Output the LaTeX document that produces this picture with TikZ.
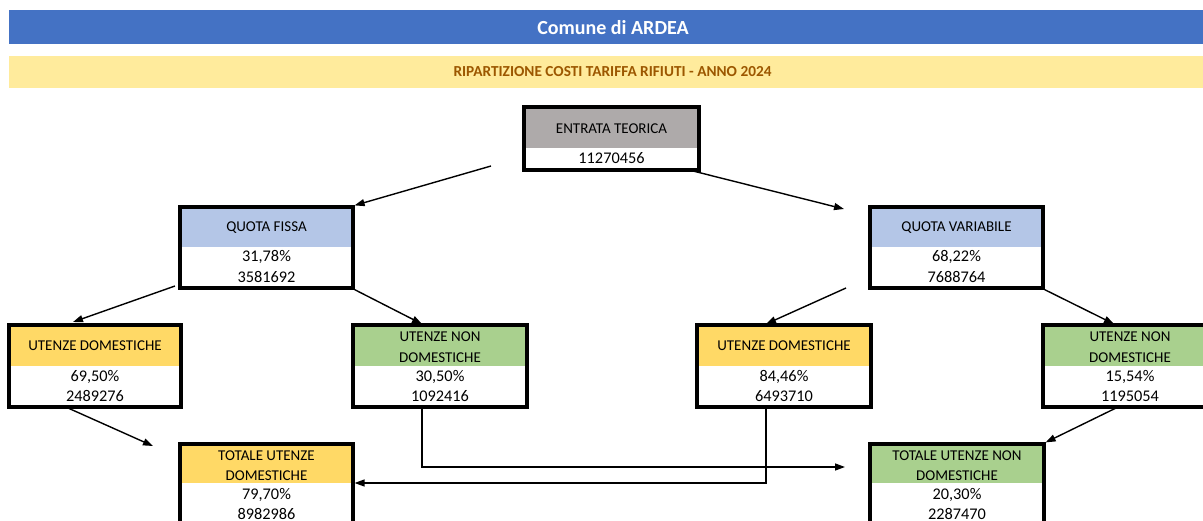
\documentclass[tikz,border=0pt]{standalone}
\usepackage{fontspec}
\setmainfont{Carlito}
\usetikzlibrary{arrows.meta,fit}
\definecolor{barblue}{HTML}{4472C4}
\definecolor{baryel}{HTML}{FFEB9C}
\definecolor{bartxt}{HTML}{9C5700}
\definecolor{hdgray}{HTML}{AEAAAA}
\definecolor{hdblue}{HTML}{B4C6E7}
\definecolor{hdyel}{HTML}{FFD966}
\definecolor{hdgreen}{HTML}{A9D08E}
\tikzset{
  boxframe/.style={draw=black, line width=3.2pt, inner sep=0pt},
  lbl/.style={font=\fontsize{15}{18}\selectfont, inner sep=0pt, text=black},
  val/.style={font=\fontsize{16.3}{19}\selectfont, inner sep=0pt, text=black},
  conn/.style={draw=black, line width=1.4pt, -{Triangle[length=10pt,width=7pt]}},
}
\newcommand\mkbox[7]{%
  \fill[#7] (#2,#3) rectangle (#4,#6);
  \node[boxframe, fit={(#2,#3) (#4,#5)}] (#1) {};
}
\begin{document}
\begin{tikzpicture}[x=1pt,y=-1pt]
\clip (0,0) rectangle (1203,520);
\fill[white] (0,0) rectangle (1203,520);
% title bars
\fill[barblue] (9,10) rectangle (1210,44);
\node[font=\fontsize{20}{24}\selectfont\bfseries, text=white] (title) at (613,27.5) {Comune di ARDEA};
\fill[baryel] (9,56) rectangle (1210,88);
\node[font=\fontsize{15.3}{18}\selectfont\bfseries, text=bartxt] (subtitle) at (612.5,72) {RIPARTIZIONE COSTI TARIFFA RIFIUTI - ANNO 2024};
% boxes
\mkbox{et}{524}{107}{699}{170}{148}{hdgray}
\node[lbl] (et-a) at (611.5,129) {ENTRATA TEORICA};
\node[val] (et-b) at (611.5,158) {11270456};

\mkbox{qf}{180}{207}{353}{288}{247}{hdblue}
\node[lbl] (qf-a) at (266.5,228) {QUOTA FISSA};
\node[val] (qf-b) at (266.5,257) {31,78\%};
\node[val] (qf-c) at (266.5,277) {3581692};

\mkbox{qv}{870}{207}{1043}{288}{247}{hdblue}
\node[lbl] (qv-a) at (956.5,228) {QUOTA VARIABILE};
\node[val] (qv-b) at (956.5,257) {68,22\%};
\node[val] (qv-c) at (956.5,277) {7688764};

\mkbox{udl}{9}{325}{181}{407}{366}{hdyel}
\node[lbl] (udl-a) at (95,346) {UTENZE DOMESTICHE};
\node[val] (udl-b) at (95,377) {69,50\%};
\node[val] (udl-c) at (95,396) {2489276};

\mkbox{undl}{353}{325}{527}{407}{366}{hdgreen}
\node[lbl] (undl-a) at (440,337) {UTENZE NON};
\node[lbl] (undl-b) at (440,358) {DOMESTICHE};
\node[val] (undl-c) at (440,377) {30,50\%};
\node[val] (undl-d) at (440,396) {1092416};

\mkbox{udr}{697}{325}{871}{407}{366}{hdyel}
\node[lbl] (udr-a) at (784,346) {UTENZE DOMESTICHE};
\node[val] (udr-b) at (784,377) {84,46\%};
\node[val] (udr-c) at (784,396) {6493710};

\mkbox{undr}{1043}{325}{1217}{407}{366}{hdgreen}
\node[lbl] (undr-a) at (1130,337) {UTENZE NON};
\node[lbl] (undr-b) at (1130,358) {DOMESTICHE};
\node[val] (undr-c) at (1130,377) {15,54\%};
\node[val] (undr-d) at (1130,396) {1195054};

\mkbox{tud}{180}{444}{353}{560}{483}{hdyel}
\node[lbl] (tud-a) at (266.5,456) {TOTALE UTENZE};
\node[lbl] (tud-b) at (266.5,476) {DOMESTICHE};
\node[val] (tud-c) at (266.5,495) {79,70\%};
\node[val] (tud-d) at (266.5,514) {8982986};

\mkbox{tund}{870}{444}{1044}{560}{483}{hdgreen}
\node[lbl] (tund-a) at (957,456) {TOTALE UTENZE NON};
\node[lbl] (tund-b) at (957,476) {DOMESTICHE};
\node[val] (tund-c) at (957,495) {20,30\%};
\node[val] (tund-d) at (957,514) {2287470};

% connector free ends
\coordinate (s1) at (491,166);
\coordinate (s2) at (693,171);
\coordinate (e2) at (844,209);
\coordinate (s3) at (175,286);
\coordinate (e3) at (73,322);
\coordinate (e4) at (422,324);
\coordinate (s5) at (846,288);
\coordinate (e5) at (766,324);
\coordinate (e6) at (1114,324);
\coordinate (s7) at (68,408);
\coordinate (e7) at (153,446);
\coordinate (s8) at (422,408);
\coordinate (e8) at (845,467);
\coordinate (s9) at (766,408);
\coordinate (s10) at (1116,408);

\draw[conn] (s1) -- (qf.north east);
\draw[conn] (s2) -- (e2);
\draw[conn] (s3) -- (e3);
\draw[conn] (qf.south east) -- (e4);
\draw[conn] (s5) -- (e5);
\draw[conn] (qv.south east) -- (e6);
\draw[conn] (s7) -- (e7);
\draw[conn] (s8) |- (e8);
\draw[conn] (s9) |- (tud.east |- 0,483);
\draw[conn] (s10) -- (tund.north east);
\end{tikzpicture}
\end{document}
